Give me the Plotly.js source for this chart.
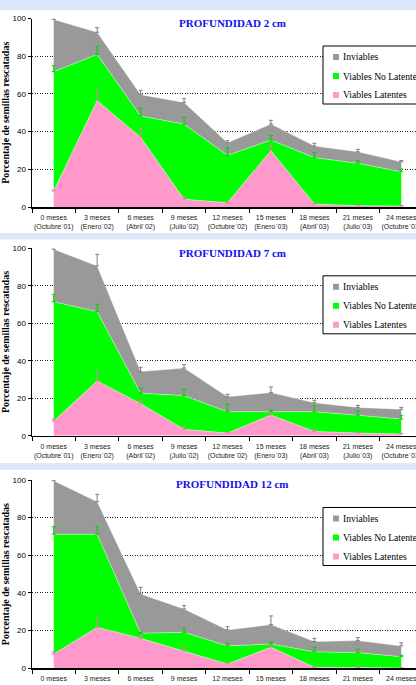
<!DOCTYPE html>
<html><head><meta charset="utf-8">
<script src="https://cdn.plot.ly/plotly-3.0.1.min.js"></script>
<style>html,body{margin:0;padding:0;overflow:hidden;background:#fff}#chart{width:430px;height:685px}</style>
</head><body><div id="chart"></div>
<script>
// ---- Data ----
const meses = ["0 meses","3 meses","6 meses","9 meses","12 meses","15 meses","18 meses","21 meses","24 meses"];
const fechas = ["(Octubre`01)","(Enero`02)","(Abril`02)","(Julio`02)","(Octubre`02)","(Enero`03)","(Abril`03)","(Julio`03)","(Octubre`03)"];
const profundidades = ["PROFUNDIDAD 2 cm","PROFUNDIDAD 7 cm","PROFUNDIDAD 12 cm"];
const seriesNames = ["Inviables","Viables No Latentes","Viables Latentes"];
const yTitle = "Porcentaje de semillas rescatadas";
const yTicks = [0,20,40,60,80,100];

// 2 cm
const latentes2   = [8.5, 56.4, 37.0, 4.1, 2.3, 29.9, 1.6, 0.7, 0.5];
const noLatentes2 = [63.3, 24.6, 11.3, 39.9, 25.1, 5.6, 24.6, 22.5, 18.2];
const inviables2  = [27.7, 11.7, 11.3, 11.5, 6.7, 8.5, 6.2, 6.1, 5.3];
const errLat2     = [0.5, 6.0, 4.7, 1.4, 0.3, 2.8, 0.3, 0.3, 0.3];
const errNoLat2   = [3.2, 4.0, 4.1, 3.4, 4.1, 2.5, 2.6, 1.4, 1.4];
const errInv2     = [3.8, 2.4, 2.3, 2.0, 1.1, 2.0, 1.4, 1.3, 0.6];
// 7 cm
const latentes7   = [7.8, 29.2, 17.1, 3.4, 1.4, 11.0, 2.3, 1.4, 0.9];
const noLatentes7 = [63.7, 37.0, 5.5, 18.0, 11.4, 1.8, 10.5, 9.5, 8.0];
const inviables7  = [28.0, 24.4, 11.6, 14.7, 8.0, 10.2, 4.8, 4.2, 5.2];
const errLat7     = [1.1, 5.0, 1.9, 1.8, 0.3, 1.0, 0.7, 0.3, 0.3];
const errNoLat7   = [3.9, 3.9, 2.7, 3.2, 3.9, 0.7, 3.2, 2.4, 2.0];
const errInv7     = [4.1, 6.2, 2.3, 1.8, 1.3, 3.0, 1.3, 1.1, 1.0];
// 12 cm
const latentes12   = [7.6, 21.8, 15.9, 9.2, 2.3, 11.2, 0.5, 0.4, 0.2];
const noLatentes12 = [63.6, 49.4, 2.7, 9.9, 9.6, 1.7, 8.3, 7.9, 6.0];
const inviables12  = [28.4, 17.3, 20.9, 12.4, 8.5, 10.3, 5.4, 6.4, 5.7];
const errLat12     = [1.2, 5.3, 1.4, 2.7, 0.3, 1.8, 0.3, 0.3, 0.3];
const errNoLat12   = [4.0, 4.0, 0.5, 2.3, 1.4, 1.1, 2.4, 1.8, 0.7];
const errInv12     = [3.9, 3.9, 3.5, 1.8, 1.7, 4.6, 1.7, 1.6, 1.6];

// ---- Layout helpers ----
const W = 430, H = 685;
const panels = [
  {lat: latentes2, noLat: noLatentes2, inv: inviables2, eL: errLat2, eN: errNoLat2, eI: errInv2, top: 18.5, bot: 207},
  {lat: latentes7, noLat: noLatentes7, inv: inviables7, eL: errLat7, eN: errNoLat7, eI: errInv7, top: 248.3, bot: 435.7},
  {lat: latentes12, noLat: noLatentes12, inv: inviables12, eL: errLat12, eN: errNoLat12, eI: errInv12, top: 480, bot: 668.3}
];
const px = x => x / W;
const py = y => 1 - y / H;
const cats = meses.map((m, i) => m + "<br>" + fechas[i]);
const fillCol = {inv: "#999999", noLat: "#00ff00", lat: "#ff99cc"};
const errCol = {inv: "#7f7f7f", noLat: "#00d000", lat: "#f07ab4"};
const serif = "Liberation Serif, Times New Roman, serif";
const sans = "Liberation Sans, Arial, sans-serif";

const traces = [];
const layout = {
  width: W, height: H,
  margin: {l: 0, r: 0, t: 0, b: 0},
  paper_bgcolor: "#fff", plot_bgcolor: "#fff",
  showlegend: false,
  shapes: [], annotations: []
};

// light blue separator strips
[[0, 10], [233, 239.5], [463, 470]].forEach(s => {
  layout.shapes.push({type: "rect", xref: "paper", yref: "paper", x0: 0, x1: 1, y0: py(s[1]), y1: py(s[0]),
    fillcolor: "#dbe8f7", line: {width: 0}, layer: "below"});
});

panels.forEach((p, k) => {
  const n = k === 0 ? "" : String(k + 1);
  const xa = "x" + n, ya = "y" + n;
  const c1 = p.lat.slice();
  const c2 = p.lat.map((v, i) => v + p.noLat[i]);
  const c3 = c2.map((v, i) => v + p.inv[i]);
  const edge = {width: 0.6, color: "rgba(255,255,255,0.7)"};
  traces.push({type: "scatter", mode: "lines", x: cats, y: c1, xaxis: xa, yaxis: ya, name: seriesNames[2],
    fill: "tozeroy", fillcolor: fillCol.lat, line: edge, hoverinfo: "skip"});
  traces.push({type: "scatter", mode: "lines", x: cats, y: c2, xaxis: xa, yaxis: ya, name: seriesNames[1],
    fill: "tonexty", fillcolor: fillCol.noLat, line: edge, hoverinfo: "skip"});
  traces.push({type: "scatter", mode: "lines", x: cats, y: c3, xaxis: xa, yaxis: ya, name: seriesNames[0],
    fill: "tonexty", fillcolor: fillCol.inv, line: edge, hoverinfo: "skip"});
  // error bars (upper only)
  [[c1, p.eL, errCol.lat], [c2, p.eN, errCol.noLat], [c3, p.eI, errCol.inv]].forEach(([yy, ee, col]) => {
    traces.push({type: "scatter", mode: "markers", x: cats, y: yy, xaxis: xa, yaxis: ya, cliponaxis: false,
      marker: {size: 1, color: "rgba(0,0,0,0)"}, hoverinfo: "skip",
      error_y: {type: "data", symmetric: false, array: ee, arrayminus: ee.map(() => 0),
        color: col, thickness: 1, width: 2}});
  });

  layout["xaxis" + n] = {
    domain: [px(32), px(423)], anchor: ya, type: "category", range: [-0.5, 8.5],
    tickson: "boundaries", ticks: "outside", ticklen: 4, tickcolor: "#000", tickwidth: 1, tickangle: 0,
    ticklabelstandoff: 3,
    showline: true, linecolor: "#000", linewidth: 1.5, showgrid: false, zeroline: false,
    tickfont: {family: sans, size: 7, color: "#222"}, fixedrange: true
  };
  layout["yaxis" + n] = {
    domain: [py(p.bot), py(p.top)], anchor: xa, range: [0, 100],
    tickvals: yTicks, ticks: "outside", ticklen: 3, tickcolor: "#000", tickwidth: 1,
    showline: true, linecolor: "#000", linewidth: 1.5,
    showgrid: true, gridcolor: "#222", griddash: "1px,1.5px", gridwidth: 1, zeroline: false,
    tickfont: {family: sans, size: 8, color: "#000"},
    title: {text: yTitle, font: {family: serif, size: 10, color: "#000", weight: 700}, standoff: 1},
    fixedrange: true
  };

  // panel title
  layout.annotations.push({xref: "paper", yref: "paper", x: px(232), y: py(p.top + 4.5),
    text: profundidades[k], showarrow: false, xanchor: "center", yanchor: "middle",
    font: {family: serif, size: 11, color: "#1010ee", weight: 700}, bgcolor: "#fff", borderpad: 2});

  // legend box
  const lt = p.top;
  layout.shapes.push({type: "rect", xref: "paper", yref: "paper", x0: px(323), x1: px(440),
    y0: py(lt + 85.5), y1: py(lt + 27.5), fillcolor: "#fff", line: {color: "#000", width: 1}, layer: "above"});
  const items = [[seriesNames[0], fillCol.inv, 38.5], [seriesNames[1], fillCol.noLat, 57.5], [seriesNames[2], fillCol.lat, 76.5]];
  items.forEach(([name, col, dy]) => {
    layout.shapes.push({type: "rect", xref: "paper", yref: "paper", x0: px(333), x1: px(339),
      y0: py(lt + dy + 3), y1: py(lt + dy - 3), fillcolor: col, line: {width: 0}, layer: "above"});
    layout.annotations.push({xref: "paper", yref: "paper", x: px(340.5), y: py(lt + dy),
      text: name, showarrow: false, xanchor: "left", yanchor: "middle",
      font: {family: serif, size: 9.6, color: "#000"}});
  });
});

Plotly.newPlot("chart", traces, layout, {staticPlot: true, displayModeBar: false});
</script></body></html>
